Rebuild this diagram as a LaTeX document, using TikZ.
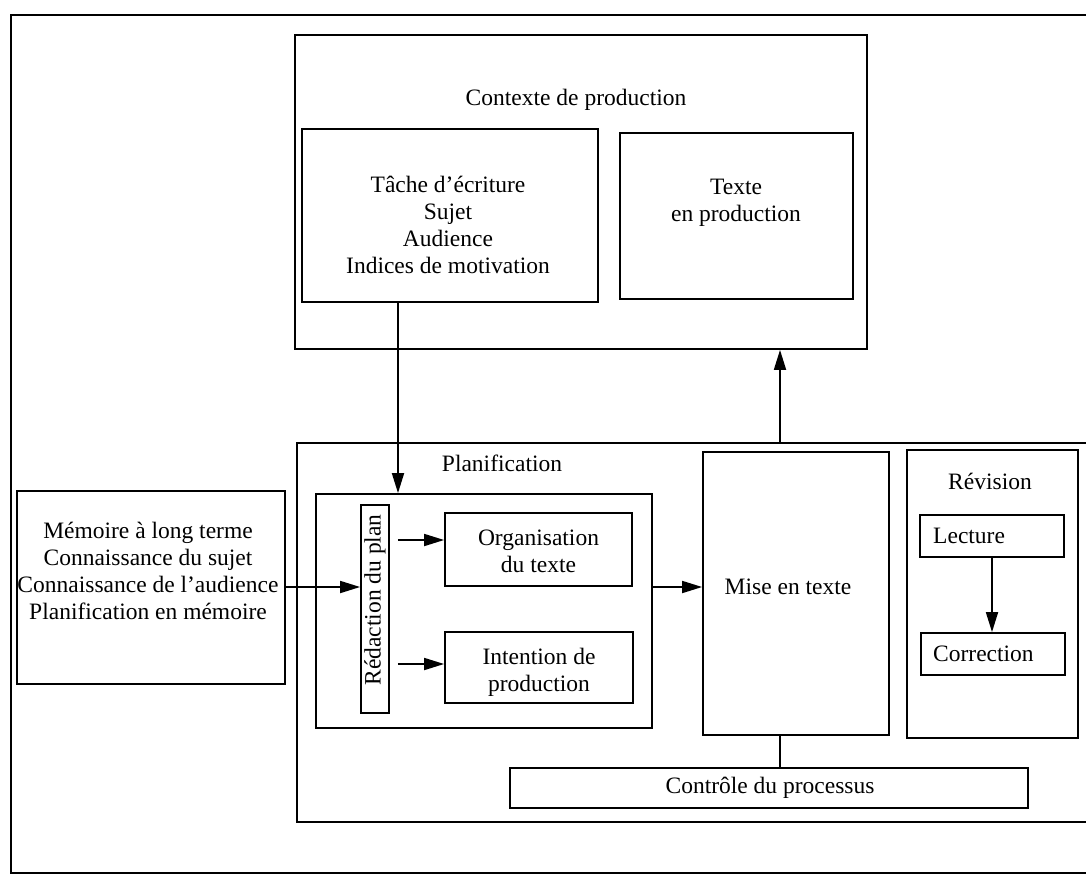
\documentclass[tikz,border=0pt]{standalone}
\usepackage{fontspec}
\setmainfont{Liberation Serif}
\usetikzlibrary{arrows.meta}
\begin{document}
\begin{tikzpicture}[x=1pt,y=-1pt,
  box/.style={draw, line width=1.8pt, inner sep=0pt, rectangle},
  txt/.style={font=\fontsize{23.5}{27}\selectfont, align=center, inner sep=0pt},
  arr/.style={-{Triangle[length=20pt,width=12pt]}, line width=1.8pt},
  ln/.style={line width=1.8pt}]
\useasboundingbox (0,0) rectangle (1086,878);
% outer frame (extends beyond the right edge)
\node[box, minimum width=1089pt, minimum height=858pt] (outer) at (555.5,444) {};
% context of production
\node[box, minimum width=572pt, minimum height=314pt] (ctx) at (581,192) {};
\node[txt] (ctxlab) at (576,100) {Contexte de production};
\node[box, minimum width=296pt, minimum height=173pt] (tache) at (450,215.5) {};
\node[txt] (tachetxt) at (448,225) {Tâche d’écriture\\Sujet\\Audience\\Indices de motivation};
\node[box, minimum width=233pt, minimum height=166pt] (texte) at (736.5,216) {};
\node[txt] (textetxt) at (736,203) {Texte\\en production};
% planification area
\node[box, minimum width=803pt, minimum height=379pt] (plan) at (698.5,632.5) {};
\node[txt] (planlab) at (502,463) {Planification};
\node[box, minimum width=268pt, minimum height=193pt] (memoire) at (151,587.5) {};
\node[txt] (memtxt) at (148,571) {Mémoire à long terme\\Connaissance du sujet\\Connaissance de l’audience\\Planification en mémoire};
\node[box, minimum width=336pt, minimum height=234pt] (redac) at (484,611) {};
\node[box, minimum width=28pt, minimum height=208pt] (bar) at (375,609) {};
\node[txt, rotate=90] (bartxt) at (375,600) {Rédaction du plan};
\node[box, minimum width=187pt, minimum height=73pt] (org) at (538.5,549.5) {};
\node[txt] (orgtxt) at (538.5,551) {Organisation\\du texte};
\node[box, minimum width=188pt, minimum height=71pt] (intent) at (539,667.5) {};
\node[txt] (inttxt) at (539,672) {Intention de\\production};
\node[box, minimum width=186pt, minimum height=283pt] (mise) at (796,593.5) {};
\node[txt] (misetxt) at (788,587) {Mise en texte};
\node[box, minimum width=171pt, minimum height=288pt] (revision) at (992.5,594) {};
\node[txt] (revlab) at (990,481) {Révision};
\node[box, minimum width=144pt, minimum height=42pt] (lecture) at (992,536) {};
\node[txt, anchor=west] (lectxt) at (933,536) {Lecture};
\node[box, minimum width=144pt, minimum height=42pt] (correction) at (993,654) {};
\node[txt, anchor=west] (cortxt) at (933,654) {Correction};
\node[box, minimum width=518pt, minimum height=40pt] (controle) at (769,788) {};
\node[txt] (contxt) at (770,788) {Contrôle du processus};
% reference coordinates for connector positions
\coordinate (xa) at (398,0);
\coordinate (xb) at (780,0);
\coordinate (xc) at (992,0);
\coordinate (ya) at (0,587);
\coordinate (yb) at (0,540);
\coordinate (yc) at (0,664);
% connectors
\draw[arr] (tache.south -| xa) -- (redac.north -| xa);
\draw[arr] (plan.north -| xb) -- (ctx.south -| xb);
\draw[arr] (memoire.east |- ya) -- (bar.west |- ya);
\draw[arr, shorten <=8pt] (bar.east |- yb) -- (org.west |- yb);
\draw[arr, shorten <=8pt] (bar.east |- yc) -- (intent.west |- yc);
\draw[arr] (redac.east |- ya) -- (mise.west |- ya);
\draw[arr] (lecture.south -| xc) -- (correction.north -| xc);
\draw[ln] (mise.south -| xb) -- (controle.north -| xb);
\end{tikzpicture}
\end{document}
